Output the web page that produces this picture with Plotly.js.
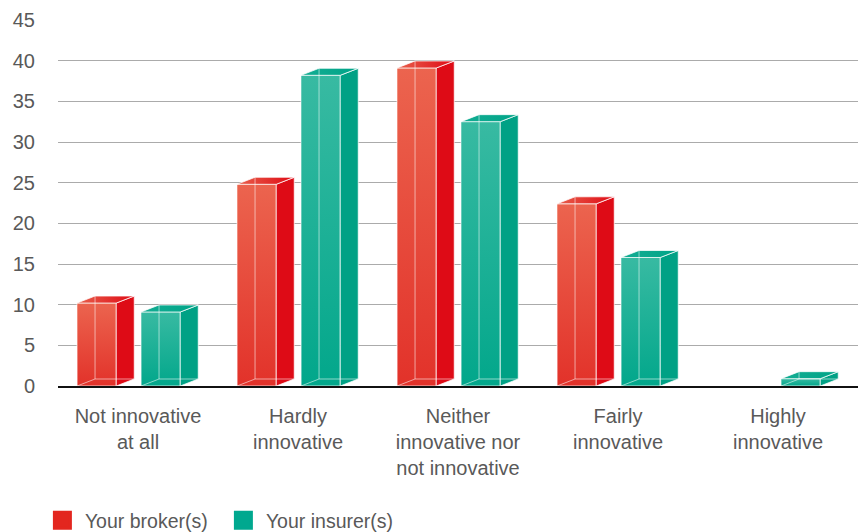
<!DOCTYPE html>
<html>
<head>
<meta charset="utf-8">
<script src="https://cdn.plot.ly/plotly-3.0.1.min.js"></script>
<style>html,body{margin:0;padding:0;background:#fff;}#chart{width:858px;height:532px;}</style>
</head>
<body>
<div id="chart"></div>
<script>
// ---- data ----
const categories = ['Not innovative<br>at all', 'Hardly<br>innovative', 'Neither<br>innovative nor<br>not innovative', 'Fairly<br>innovative', 'Highly<br>innovative'];
const seriesNames = ['Your broker(s)', 'Your insurer(s)'];
const brokerValues = [10.2, 24.8, 39.1, 22.4, null];
const insurerValues = [9.1, 38.2, 32.5, 15.8, 0.9];
const yTickValues = [0, 5, 10, 15, 20, 25, 30, 35, 40, 45];

// ---- style / geometry ----
const W = 858, H = 532;
const M = {l: 58, r: 0, t: 20, b: 146};
const plotH = H - M.t - M.b;
const yMax = 45;
const barW = 0.245;           // front face width (category units)
const depthX = 0.1125;        // 3D depth offset in x (category units)
const depthY = 7 * yMax / plotH; // 3D depth offset in y (value units, 7px)
const offsets = [-0.381, 0.019]; // left edge of front face relative to category centre
const styles = [
  {front: '#e2322a', side: '#de0b16', topL: '#e8604c', topR: '#df0a15', gloss: 'rgba(245,150,115,', legend: '#e3261f'},
  {front: '#02a78b', side: '#00a185', topL: '#14ad93', topR: '#00a488', gloss: 'rgba(110,205,185,', legend: '#00a88f'}
];
const edge = 'rgba(255,255,255,0.75)';
const hidden = 'rgba(255,255,255,0.55)';

const seriesValues = [brokerValues, insurerValues];
const xIdx = categories.map((c, i) => i);
const traces = [];

seriesValues.forEach((vals, s) => {
  const st = styles[s];
  traces.push({
    type: 'bar', name: seriesNames[s], showlegend: false, hoverinfo: 'skip',
    x: xIdx.map(i => i + offsets[s] + barW / 2), y: vals, width: barW,
    marker: {color: st.front, line: {color: edge, width: 1}}
  });
});

seriesValues.forEach((vals, s) => {
  const st = styles[s];
  vals.forEach((v, i) => {
    if (v === null || v === undefined) return;
    const x0 = i + offsets[s], x1 = x0 + barW;
    traces.push({
      type: 'scatter', mode: 'none', showlegend: false, hoverinfo: 'skip',
      x: [x0, x1, x1, x0, x0], y: [0, 0, v, v, 0], fill: 'toself',
      fillgradient: {type: 'vertical', colorscale: [[0, st.gloss + '0)'], [1, st.gloss + '0.5)']]}
    });
    traces.push({
      type: 'scatter', mode: 'lines', showlegend: false, hoverinfo: 'skip',
      x: [x1, x1 + depthX, x1 + depthX, x1, x1], y: [0, depthY, v + depthY, v, 0],
      fill: 'toself', fillcolor: st.side, line: {color: edge, width: 1}
    });
    traces.push({
      type: 'scatter', mode: 'lines', showlegend: false, hoverinfo: 'skip',
      x: [x0, x0 + depthX, x1 + depthX, x1, x0], y: [v, v + depthY, v + depthY, v, v],
      fill: 'toself', fillcolor: st.topR,
      fillgradient: {type: 'horizontal', colorscale: [[0, st.topL], [1, st.topR]]},
      line: {color: edge, width: 1}
    });
    traces.push({
      type: 'scatter', mode: 'lines', showlegend: false, hoverinfo: 'skip',
      x: [x0, x0 + depthX, x0 + depthX, null, x0 + depthX, x1 + depthX],
      y: [0, depthY, v + depthY, null, depthY, depthY],
      line: {color: hidden, width: 1}
    });
  });
});

seriesNames.forEach((n, s) => {
  traces.push({
    type: 'scatter', mode: 'markers', name: n, x: [null], y: [null],
    marker: {symbol: 'square', size: 16, color: styles[s].legend, line: {color: styles[s].legend, width: 3}}
  });
});

const font = 'Liberation Sans, Arial, Helvetica, sans-serif';
const layout = {
  width: W, height: H, margin: M,
  paper_bgcolor: '#fff', plot_bgcolor: '#fff',
  barmode: 'overlay',
  font: {family: font, size: 20, color: '#595959'},
  xaxis: {
    range: [-0.5, 4.5], tickvals: xIdx, ticktext: categories,
    showgrid: false, zeroline: false,
    showline: true, linecolor: '#111', linewidth: 2,
    ticks: 'outside', ticklen: 11, tickcolor: 'rgba(0,0,0,0)',
    tickfont: {family: font, size: 20, color: '#595959'}, fixedrange: true
  },
  yaxis: {
    range: [0, yMax], tickvals: yTickValues,
    showgrid: true, gridcolor: '#ababab', gridwidth: 1,
    zeroline: false, showline: false,
    ticks: 'outside', ticklen: 18, tickcolor: 'rgba(0,0,0,0)',
    tickfont: {family: font, size: 20, color: '#595959'}, fixedrange: true
  },
  showlegend: true,
  legend: {
    orientation: 'h', xref: 'container', yref: 'container',
    x: 0.0465, xanchor: 'left', y: 0.058, yanchor: 'top',
    itemwidth: 35, entrywidth: 131, entrywidthmode: 'pixels',
    font: {family: font, size: 19.5, color: '#595959'},
    itemclick: false, itemdoubleclick: false
  }
};

Plotly.newPlot('chart', traces, layout, {displayModeBar: false, staticPlot: true});
</script>
</body>
</html>
